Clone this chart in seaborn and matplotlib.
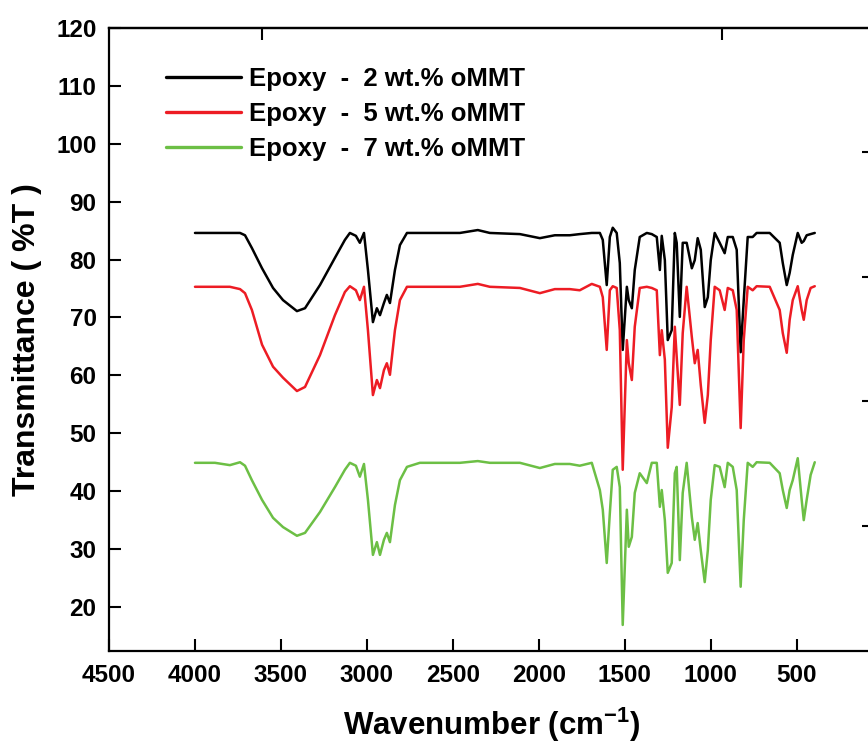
import pandas as pd
import seaborn as sns
import matplotlib
matplotlib.use("Agg")
import matplotlib.pyplot as plt

wavenumber = [4000, 3884, 3797, 3738, 3709, 3669, 3610, 3546, 3488, 3407,
              3360, 3273, 3186, 3128, 3099, 3064, 3041, 3017, 2994, 2965,
              2942, 2924, 2901, 2884, 2866, 2837, 2808, 2767, 2692, 2459,
              2355, 2285, 2110, 1994, 1907, 1820, 1762, 1692, 1645, 1628,
              1605, 1587, 1570, 1547, 1529, 1512, 1488, 1477, 1459, 1442,
              1413, 1372, 1343, 1314, 1296, 1285, 1267, 1250, 1227, 1209,
              1198, 1180, 1163, 1140, 1110, 1093, 1076, 1058, 1035, 1017,
              1000, 977, 948, 919, 901, 872, 849, 826, 808, 785,
              756, 733, 657, 599, 581, 558, 541, 523, 494, 471,
              459, 442, 419, 395]

t_2wt = [84.6, 84.6, 84.6, 84.6, 84.2, 82.0, 78.5, 75.1, 73.0, 71.1,
         71.6, 75.6, 80.3, 83.4, 84.6, 84.1, 82.9, 84.6, 78.2, 69.2,
         71.6, 70.4, 72.5, 73.9, 72.5, 78.2, 82.5, 84.6, 84.6, 84.6,
         85.1, 84.6, 84.4, 83.7, 84.2, 84.2, 84.4, 84.6, 84.6, 83.4,
         75.6, 83.9, 85.5, 84.6, 79.4, 64.4, 75.3, 73.0, 71.6, 78.2,
         83.9, 84.6, 84.4, 83.9, 78.2, 84.1, 79.9, 66.1, 67.8, 84.6,
         82.9, 70.1, 82.9, 82.9, 78.5, 79.9, 83.7, 81.7, 71.8, 73.5,
         79.9, 84.6, 82.9, 81.1, 83.9, 83.9, 81.7, 64.0, 73.0, 83.9,
         83.9, 84.6, 84.6, 82.9, 79.4, 75.6, 77.7, 80.8, 84.6, 82.9,
         83.2, 84.2, 84.4, 84.6]

t_5wt = [75.3, 75.3, 75.3, 74.9, 74.2, 71.3, 65.3, 61.5, 59.6, 57.3,
         58.0, 63.5, 70.4, 74.4, 75.4, 74.7, 73.0, 75.3, 67.8, 56.6,
         59.2, 57.8, 60.9, 62.1, 60.1, 67.8, 73.0, 75.3, 75.3, 75.3,
         75.8, 75.3, 75.1, 74.2, 74.9, 74.9, 74.7, 75.8, 75.3, 73.5,
         64.4, 74.7, 75.4, 75.1, 67.8, 43.7, 66.1, 62.1, 59.2, 68.4,
         75.1, 75.3, 75.1, 74.7, 63.5, 67.8, 62.7, 47.5, 54.5, 68.4,
         63.2, 54.9, 67.3, 75.3, 66.6, 62.1, 64.4, 58.3, 51.8, 56.6,
         66.1, 75.3, 74.7, 71.3, 75.1, 74.7, 71.3, 50.9, 66.1, 75.3,
         74.7, 75.4, 75.3, 71.3, 67.3, 63.9, 69.6, 73.0, 75.4, 71.3,
         69.6, 73.0, 75.1, 75.4]

t_7wt = [44.9, 44.9, 44.5, 45.0, 44.4, 41.9, 38.5, 35.4, 33.8, 32.3,
         32.8, 36.4, 40.7, 43.7, 44.9, 44.4, 42.5, 44.7, 38.5, 29.0,
         31.2, 29.0, 31.6, 32.8, 31.2, 37.6, 41.9, 44.2, 44.9, 44.9,
         45.2, 44.9, 44.9, 44.0, 44.7, 44.7, 44.4, 44.9, 40.2, 36.8,
         27.6, 36.2, 43.7, 44.2, 40.7, 16.9, 36.8, 30.4, 32.1, 39.7,
         43.1, 41.4, 44.9, 44.9, 37.3, 40.2, 35.0, 25.9, 27.6, 43.1,
         44.2, 28.1, 39.7, 44.9, 35.5, 31.6, 34.5, 29.8, 24.3, 29.8,
         38.5, 44.5, 44.2, 40.7, 44.9, 44.2, 40.2, 23.5, 35.0, 44.9,
         44.2, 45.0, 44.9, 43.1, 40.2, 37.1, 40.2, 41.9, 45.7, 38.5,
         35.0, 38.5, 42.8, 45.0]

labels = ["Epoxy  -  2 wt.% oMMT", "Epoxy  -  5 wt.% oMMT", "Epoxy  -  7 wt.% oMMT"]
colors = ["#000000", "#ED1C24", "#6CBF45"]

df = pd.DataFrame({"Wavenumber": wavenumber,
                   labels[0]: t_2wt, labels[1]: t_5wt, labels[2]: t_7wt})
df = df.melt(id_vars="Wavenumber", var_name="Sample", value_name="T")

sns.set_style("ticks")
plt.rcParams["font.family"] = ["Liberation Sans", "DejaVu Sans"]
plt.rcParams["font.weight"] = "bold"
plt.rcParams["mathtext.fontset"] = "custom"
plt.rcParams["mathtext.rm"] = "Liberation Sans:bold"
plt.rcParams["mathtext.bf"] = "Liberation Sans:bold"
for key in ["text.color", "axes.labelcolor", "axes.edgecolor", "xtick.color", "ytick.color"]:
    plt.rcParams[key] = "black"

fig = plt.figure(figsize=(8.68, 7.44), dpi=100)
# right spine sits just outside the picture, as in the cropped original
ax = fig.add_axes([0.1256, 0.125, 0.881, 0.8374])

sns.lineplot(data=df, x="Wavenumber", y="T", hue="Sample", hue_order=labels,
             palette=colors, sort=False, estimator=None, linewidth=1.8, ax=ax)

ax.set_xlim(4500, 52)
ax.set_ylim(12.4, 120)
ax.set_xticks([4500, 4000, 3500, 3000, 2500, 2000, 1500, 1000, 500])
ax.set_yticks([20, 30, 40, 50, 60, 70, 80, 90, 100, 110, 120])
ax.tick_params(direction="in", length=8.6, width=1.5, labelsize=17.5, pad=9)
for s in ax.spines.values():
    s.set_linewidth(1.6)

top = ax.secondary_xaxis("top")
top.set_xticks([3610, 936])
top.set_xticklabels([])
top.tick_params(direction="in", length=8.6, width=1.5)
top.spines["top"].set_linewidth(1.6)
right = ax.secondary_yaxis("right")
right.set_yticks([98.5, 77, 55.5, 34])
right.set_yticklabels([])
right.tick_params(direction="in", length=8.6, width=1.5)

ax.set_xlabel(r"Wavenumber (cm$^{\mathbf{-1}}$)", fontsize=22.5, fontweight="bold", labelpad=14)
ax.set_ylabel("Transmittance ( %T )", fontsize=23, fontweight="bold", labelpad=10)

leg = ax.legend(frameon=False, loc="upper left", bbox_to_anchor=(0.075, 0.937),
                fontsize=18.5, handlelength=2.9, handletextpad=0.3, labelspacing=0.42,
                borderaxespad=0, borderpad=0)
for line in leg.get_lines():
    line.set_linewidth(2.4)

fig.savefig("out.png", dpi=100)
